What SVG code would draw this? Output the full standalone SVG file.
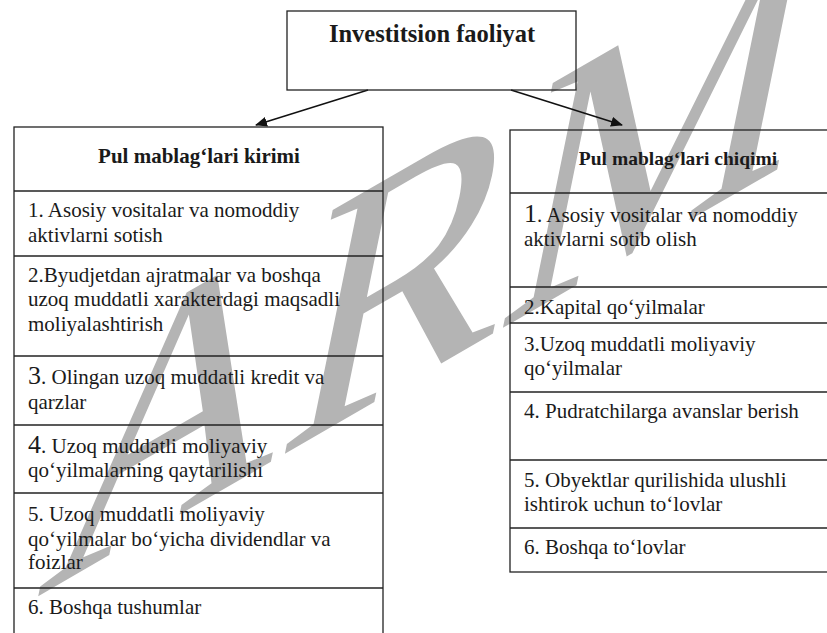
<svg xmlns="http://www.w3.org/2000/svg" width="827" height="633" viewBox="0 0 827 633">
<defs>
<style>
.t{font-family:"Liberation Serif","Times New Roman",serif;font-size:21px;fill:#1a1a1a}
.h{font-family:"Liberation Serif","Times New Roman",serif;font-weight:bold;fill:#1a1a1a}
.big{font-size:26px}
.box{fill:none;stroke:#222;stroke-width:1.3}
.ln{stroke:#222;stroke-width:1.3}
.wm{font-family:"Liberation Serif","Times New Roman",serif;fill:#b4b4b4}
</style>
<marker id="ah" viewBox="0 0 12 10" refX="11" refY="5" markerWidth="12" markerHeight="10" markerUnits="userSpaceOnUse" orient="auto">
<path d="M0,0 L12,5 L0,10 z" fill="#111"/>
</marker>
</defs>
<rect width="827" height="633" fill="#fff"/>
<text class="wm" font-size="330" transform="translate(35,598) skewY(-30) skewX(-13)">ARM</text>

<g id="connectors">
<line x1="368" y1="90" x2="256" y2="125" stroke="#111" stroke-width="1.5" marker-end="url(#ah)"/>
<line x1="511" y1="90" x2="622" y2="125" stroke="#111" stroke-width="1.5" marker-end="url(#ah)"/>
</g>

<g id="top">
<rect class="box" x="287" y="11" width="289" height="79"/>
<text class="h" x="432" y="42" font-size="24.5" text-anchor="middle">Investitsion faoliyat</text>
</g>

<g id="kirimi">
<rect class="box" x="14" y="127" width="369" height="520"/>
<line class="ln" x1="14" y1="191" x2="383" y2="191"/>
<line class="ln" x1="14" y1="256" x2="383" y2="256"/>
<line class="ln" x1="14" y1="356" x2="383" y2="356"/>
<line class="ln" x1="14" y1="425" x2="383" y2="425"/>
<line class="ln" x1="14" y1="493" x2="383" y2="493"/>
<line class="ln" x1="14" y1="588" x2="383" y2="588"/>
<text class="h" x="199" y="163" font-size="21" text-anchor="middle">Pul mablag‘lari kirimi</text>
<text class="t" x="28" y="217">1. Asosiy vositalar va nomoddiy</text>
<text class="t" x="28" y="242">aktivlarni sotish</text>
<text class="t" x="28" y="282">2.Byudjetdan ajratmalar va boshqa</text>
<text class="t" x="28" y="306">uzoq muddatli xarakterdagi maqsadli</text>
<text class="t" x="28" y="331">moliyalashtirish</text>
<text class="t" x="28" y="384"><tspan class="big">3</tspan>. Olingan uzoq muddatli kredit va</text>
<text class="t" x="28" y="409">qarzlar</text>
<text class="t" x="28" y="453"><tspan class="big">4</tspan>. Uzoq muddatli moliyaviy</text>
<text class="t" x="28" y="477">qo‘yilmalarning qaytarilishi</text>
<text class="t" x="28" y="521">5. Uzoq muddatli moliyaviy</text>
<text class="t" x="28" y="546">qo‘yilmalar bo‘yicha dividendlar va</text>
<text class="t" x="28" y="569">foizlar</text>
<text class="t" x="28" y="614">6. Boshqa tushumlar</text>
</g>

<g id="chiqimi">
<rect class="box" x="510" y="130" width="330" height="442"/>
<line class="ln" x1="510" y1="193" x2="840" y2="193"/>
<line class="ln" x1="510" y1="287" x2="840" y2="287"/>
<line class="ln" x1="510" y1="323" x2="840" y2="323"/>
<line class="ln" x1="510" y1="392" x2="840" y2="392"/>
<line class="ln" x1="510" y1="460" x2="840" y2="460"/>
<line class="ln" x1="510" y1="528" x2="840" y2="528"/>
<text class="h" x="678" y="165" font-size="19.5" text-anchor="middle">Pul mablag‘lari chiqimi</text>
<text class="t" x="524" y="222"><tspan class="big">1</tspan>. Asosiy vositalar va nomoddiy</text>
<text class="t" x="524" y="246">aktivlarni sotib olish</text>
<text class="t" x="524" y="314">2.Kapital qo‘yilmalar</text>
<text class="t" x="524" y="351">3.Uzoq muddatli moliyaviy</text>
<text class="t" x="524" y="375">qo‘yilmalar</text>
<text class="t" x="524" y="418">4. Pudratchilarga avanslar berish</text>
<text class="t" x="524" y="487">5. Obyektlar qurilishida ulushli</text>
<text class="t" x="524" y="511">ishtirok uchun to‘lovlar</text>
<text class="t" x="524" y="554">6. Boshqa to‘lovlar</text>
</g>
</svg>
